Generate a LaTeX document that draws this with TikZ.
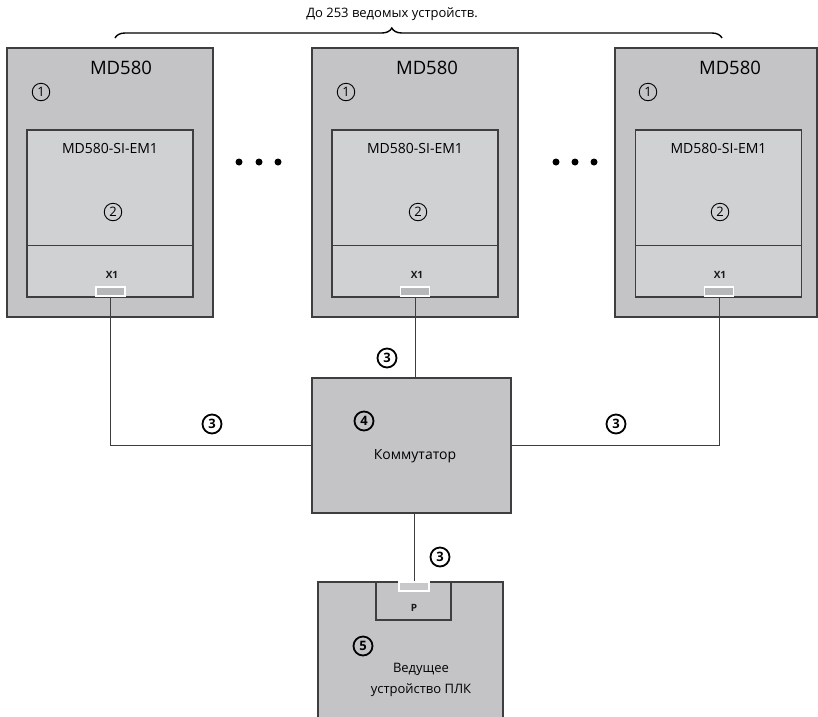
\documentclass[tikz,border=0pt]{standalone}
\usepackage{fontspec}
\setmainfont{Open Sans}
\usetikzlibrary{decorations.pathreplacing}
\definecolor{outerg}{RGB}{196,196,198}
\definecolor{innerg}{RGB}{208,209,211}
\definecolor{edgec}{RGB}{62,62,64}
\definecolor{portg}{RGB}{182,183,185}
\definecolor{portl}{RGB}{200,200,202}
\begin{document}
\begin{tikzpicture}[x=1pt,y=-1pt,
  outerbox/.style={draw=edgec,line width=1.6pt,fill=outerg,inner sep=0pt,minimum height=269pt},
  innerbox/.style={draw=edgec,line width=1.3pt,fill=innerg,inner sep=0pt,minimum width=166pt,minimum height=167pt},
  portbox/.style={draw=white,line width=1.2pt,fill=portg,inner sep=0pt,minimum width=29pt,minimum height=9pt},
  wire/.style={draw=edgec,line width=0.9pt},
  title/.style={font=\fontsize{18.5}{20}\selectfont,text=black},
  modlabel/.style={font=\fontsize{14}{15}\selectfont,text=black},
  portlabel/.style={font=\fontsize{10}{11}\selectfont\bfseries,text=black!90},
  numthin/.style={circle,draw=black,line width=0.9pt,minimum size=17.5pt,inner sep=0pt,font=\fontsize{13}{13}\selectfont},
  numbold/.style={circle,draw=black,line width=1.8pt,minimum size=19pt,inner sep=0pt,font=\fontsize{13}{13}\selectfont\bfseries},
  bodytext/.style={font=\fontsize{14}{19}\selectfont,text=black,align=center}
]
\useasboundingbox (0,0) rectangle (818,716);

% brace and caption
\coordinate (bl) at (115,38);
\coordinate (br) at (722,38);
\draw[decorate,decoration={brace,amplitude=10pt,aspect=0.456},line width=1.4pt,draw=black] (bl) -- (br);
\node[font=\fontsize{13}{15}\selectfont,text=black] (cap) at (392,14) {До 253 ведомых устройств.};

% device 1
\node[outerbox,minimum width=206pt] (o1) at (110,182.5) {};
\node[innerbox] (i1) at (110,213.5) {};
\draw[draw=edgec,line width=1.3pt] ([yshift=52pt]i1.south west) -- ([yshift=52pt]i1.south east);
\node[portbox] (p1) at (110.5,291.5) {};
\node[title] (t1) at (121,68) {MD580};
\node[numthin] (n1a) at (41,92) {1};
\node[modlabel] (m1) at (110,148) {MD580-SI-EM1};
\node[numthin] (n1b) at (113,212) {2};
\node[portlabel] (x1a) at (112,275) {X1};

% device 2
\node[outerbox,minimum width=206pt] (o2) at (415,182.5) {};
\node[innerbox] (i2) at (415,213.5) {};
\draw[draw=edgec,line width=1.3pt] ([yshift=52pt]i2.south west) -- ([yshift=52pt]i2.south east);
\node[portbox] (p2) at (415,291.5) {};
\node[title] (t2) at (427,68) {MD580};
\node[numthin] (n2a) at (346,92) {1};
\node[modlabel] (m2) at (415,148) {MD580-SI-EM1};
\node[numthin] (n2b) at (418,212) {2};
\node[portlabel] (x1b) at (417,275) {X1};

% device 3
\node[outerbox,minimum width=202pt] (o3) at (716,182.5) {};
\node[innerbox] (i3) at (718.5,213.5) {};
\draw[draw=edgec,line width=1.3pt] ([yshift=52pt]i3.south west) -- ([yshift=52pt]i3.south east);
\node[portbox] (p3) at (719,291.5) {};
\node[title] (t3) at (730,68) {MD580};
\node[numthin] (n3a) at (648,92) {1};
\node[modlabel] (m3) at (718.5,148) {MD580-SI-EM1};
\node[numthin] (n3b) at (720,212) {2};
\node[portlabel] (x1c) at (720,275) {X1};

% ellipsis dots
\foreach \xx in {239,259,278,556,575,594}{
  \fill[black] (\xx,162) circle[radius=3.5pt];
}

% switch
\node[draw=edgec,line width=1.6pt,fill=outerg,minimum width=199pt,minimum height=135pt,inner sep=0pt] (sw) at (411.5,445.5) {};
\node[numbold] (n4) at (364,421) {4};
\node[bodytext] (swt) at (415,456) {Коммутатор};

% PLC master
\node[draw=edgec,line width=1.6pt,fill=outerg,minimum width=185pt,minimum height=178pt,inner sep=0pt] (plc) at (410.5,671) {};
\node[draw=edgec,line width=1.3pt,fill=outerg,minimum width=75pt,minimum height=38pt,inner sep=0pt] (pb) at (413.5,601) {};
\node[draw=white,line width=1.2pt,fill=portl,minimum width=30pt,minimum height=9pt,inner sep=0pt] (pp) at (414,586.5) {};
\node[portlabel] (pl) at (414,608) {P};
\node[numbold] (n5) at (363,646) {5};
\node[bodytext,font=\fontsize{13}{20.5}\selectfont] (plct) at (421,680) {Ведущее\\устройство ПЛК};

% connectors
\draw[wire] (p1.south) |- (sw.west);
\draw[wire] (p2.south) -- (p2.south |- sw.north);
\draw[wire] (p3.south) |- (sw.east);
\draw[wire] (pp.north) -- (pp.north |- sw.south);

% cable labels
\node[numbold] (c1) at (212,424) {3};
\node[numbold] (c2) at (387,358) {3};
\node[numbold] (c3) at (616,424) {3};
\node[numbold] (c4) at (440,557) {3};
\end{tikzpicture}
\end{document}
